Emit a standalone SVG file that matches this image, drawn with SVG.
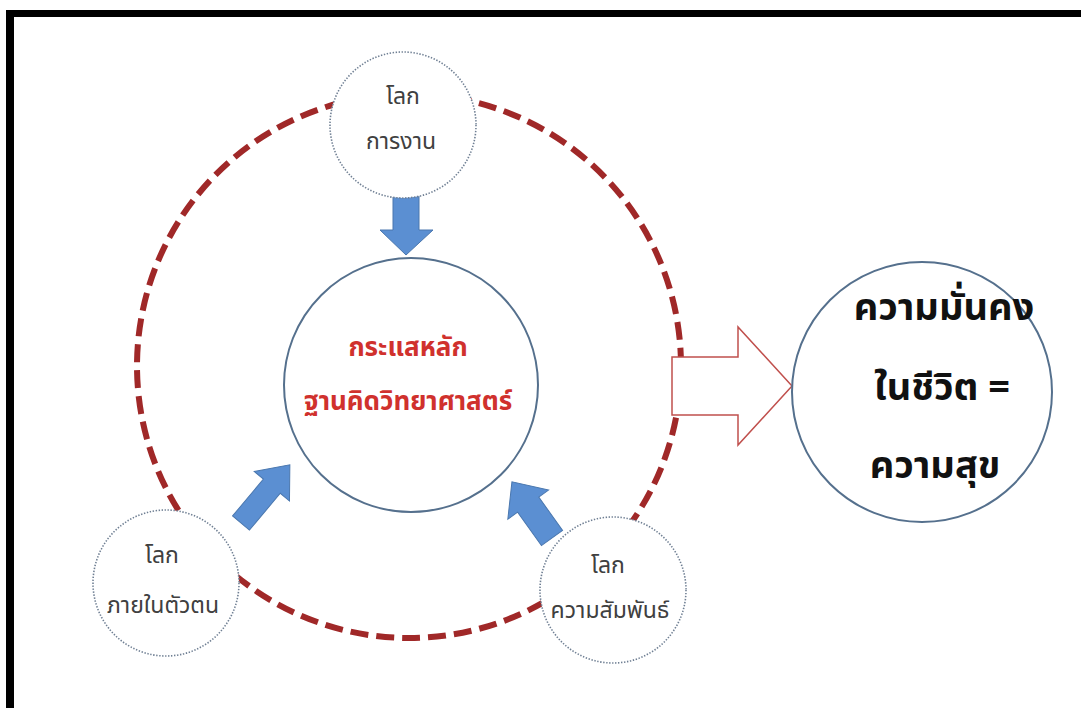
<svg xmlns="http://www.w3.org/2000/svg" width="1081" height="708" viewBox="0 0 1081 708">
<style>
.thai{font-family:"Noto Sans Thai","Noto Sans","DejaVu Sans",sans-serif;}
.small{font-size:23px;fill:#404040;text-anchor:middle;}
.center{font-size:26px;font-weight:bold;fill:#D0312D;text-anchor:middle;}
.big{font-size:38px;font-weight:bold;fill:#111;text-anchor:middle;}
.dotc{fill:#fff;stroke:#6f7f93;stroke-width:1.6;stroke-dasharray:1.4 1.6;}
.solidc{fill:#fff;stroke:#55708d;stroke-width:2;}
.blue{fill:#5B8FD2;stroke:#4A77AE;stroke-width:1;}
</style>
<rect x="0" y="0" width="1081" height="708" fill="#fff"/>
<rect x="6" y="10" width="1075" height="7" fill="#000"/>
<rect x="6" y="10" width="8" height="698" fill="#000"/>
<g id="ring">
<circle cx="409" cy="366" r="272" fill="none" stroke="#A02828" stroke-width="6" stroke-dasharray="18 8"/>
</g>
<g id="connectors">
<polygon class="blue" points="393,195 419,195 419,230 433,230 406,255 380,230 393,230"/>
<polygon class="blue" transform="translate(241,523) rotate(-50)" points="0,-11 48,-11 48,-23 76,0 48,23 48,11 0,11"/>
<polygon class="blue" transform="translate(552,538) rotate(-125.5)" points="0,-13 41,-13 41,-25 69,0 41,25 41,13 0,13"/>
<polygon points="672,357 738,357 738,327 792,386 738,445 738,415 672,415" fill="#fff" stroke="#C0504D" stroke-width="1.5"/>
</g>
<g id="node-work">
<circle class="dotc" cx="403" cy="125" r="73"/>
<text class="thai small" x="403" y="104">โลก</text>
<text class="thai small" x="401" y="149">การงาน</text>
</g>
<g id="node-center">
<circle class="solidc" cx="411" cy="385" r="127"/>
<text class="thai center" x="408" y="356">กระแสหลัก</text>
<text class="thai center" x="408" y="410">ฐานคิดวิทยาศาสตร์</text>
</g>
<g id="node-self">
<circle class="dotc" cx="166" cy="583" r="73"/>
<text class="thai small" x="162" y="563">โลก</text>
<text class="thai small" x="163" y="613">ภายในตัวตน</text>
</g>
<g id="node-relation">
<circle class="dotc" cx="613" cy="590" r="73"/>
<text class="thai small" x="608" y="573">โลก</text>
<text class="thai small" x="610" y="618">ความสัมพันธ์</text>
</g>
<g id="node-result">
<circle class="solidc" cx="922" cy="392" r="130"/>
<text class="thai big" x="944" y="320">ความมั่นคง</text>
<text class="thai big" x="942" y="400">ในชีวิต =</text>
<text class="thai big" x="935" y="478">ความสุข</text>
</g>
</svg>
